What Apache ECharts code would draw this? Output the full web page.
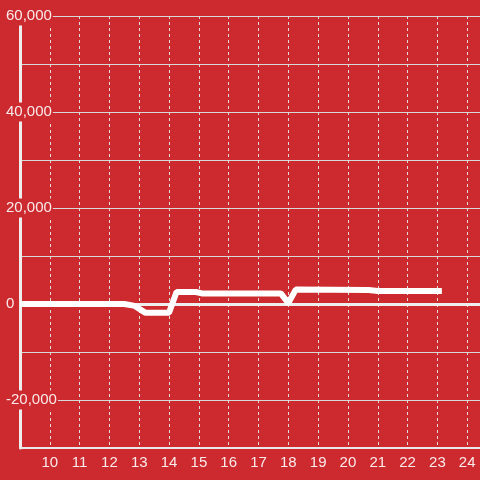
<!DOCTYPE html>
<html>
<head>
<meta charset="utf-8">
<script src="https://cdn.jsdelivr.net/npm/echarts@6/dist/echarts.min.js"></script>
<style>
  html, body { margin: 0; padding: 0; background: #cc2a2f; overflow: hidden; }
  /* the plot runs on past the right edge of the window */
  #main { width: 500px; height: 480px; }
</style>
</head>
<body>
<div id="main"></div>
<script>
// hour of day and value
var hours  = [9, 12.5, 12.85, 13.2, 14.0, 14.25, 14.9, 15.1, 17.75, 18.0, 18.25, 20.7, 21.0, 23.15];
var values = [0, 0, -400, -1800, -1800, 2500, 2500, 2200, 2200, 200, 3000, 2900, 2700, 2700];
var yTickLabels = [-20000, 0, 20000, 40000, 60000];

var bg = '#cc2a2f';
var chart = echarts.init(document.getElementById('main'));

var points = [];
for (var i = 0; i < hours.length; i++) points.push([hours[i], values[i]]);

var option = {
  backgroundColor: bg,
  animation: false,
  textStyle: { fontFamily: 'Liberation Sans' },
  grid: { left: 20, right: 0, top: 16, bottom: 32 },
  xAxis: {
    type: 'value',
    min: 9,
    max: 25,
    interval: 1,
    axisLine: { onZero: false, lineStyle: { color: '#e8e8e8', width: 2 } },
    axisTick: { show: false },
    axisLabel: {
      color: 'rgba(255,255,255,0.9)',
      fontSize: 15,
      margin: 7,
      formatter: function (v) { return (v > 9 && v <= 24) ? String(v) : ''; }
    },
    splitLine: { show: true, lineStyle: { color: '#dddddd', width: 1, type: [3, 3] } }
  },
  yAxis: {
    type: 'value',
    min: -30000,
    max: 60000,
    interval: 10000,
    axisLine: { show: true, onZero: false, lineStyle: { color: '#eeeeee', width: 3 } },
    axisTick: { show: false },
    axisLabel: {
      color: 'rgba(255,255,255,0.9)',
      fontSize: 15,
      align: 'left',
      margin: 14,
      backgroundColor: bg,
      padding: [2, 1, 2, 0],
      formatter: function (v) {
        return yTickLabels.indexOf(v) >= 0 ? v.toLocaleString('en-US') : '';
      }
    },
    splitLine: { show: true, lineStyle: { color: '#d8d8d8', width: 1 } }
  },
  series: [{
    type: 'line',
    data: points,
    showSymbol: false,
    z: 5,
    lineStyle: { color: '#ffffff', width: 6 },
    markLine: {
      silent: true,
      symbol: 'none',
      label: { show: false },
      lineStyle: { color: '#eeeeee', width: 3, type: 'solid' },
      data: [{ yAxis: 0 }],
      z: 3
    }
  }]
};
chart.setOption(option);
</script>
</body>
</html>
